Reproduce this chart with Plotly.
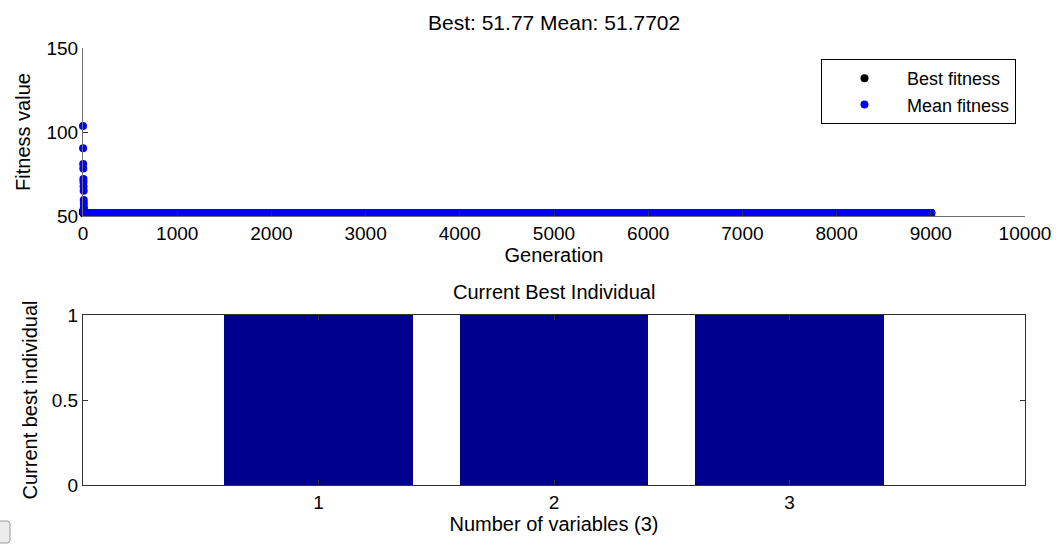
import plotly.graph_objects as go

# ---- data ---------------------------------------------------------------
# Mean fitness in the first generations, then the settled value
mean_early = [103.6, 90.4, 81.0, 78.2, 72.0, 70.2, 67.5, 65.0, 59.5, 57.5,
              55.2, 53.5, 52.4, 51.9]
best_early = [53.0, 52.4, 52.1, 51.95, 51.85, 51.8, 51.78]
best_final = 51.77
mean_final = 51.7702
last_generation = 9005

# Current best individual (one value per variable)
variables = [1, 2, 3]
best_individual = [1, 1, 1]

x_ticks = list(range(0, 10001, 1000))
x_tick_labels = [str(v) for v in x_ticks]
y_ticks_fit = [50, 100, 150]
y_ticks_ind = [0, 0.5, 1]
y_tick_ind_labels = ["0", "0.5", "1"]

# ---- series -------------------------------------------------------------
n_gen = last_generation + 1
generations = list(range(n_gen))
mean_fitness = mean_early + [mean_final] * (n_gen - len(mean_early))
best_fitness = best_early + [best_final] * (n_gen - len(best_early))

W, H = 1061, 545
FONT = "Liberation Sans, Arial, sans-serif"
BAR_COLOR = "#00008F"


def px_x(p):
    return p / W


def px_y(p):
    return 1 - p / H


fig = go.Figure()

fig.add_trace(go.Scatter(
    x=generations, y=best_fitness, mode="markers", name="Best fitness",
    marker=dict(color="black", size=8, line_width=0), cliponaxis=False,
    xaxis="x", yaxis="y",
))
fig.add_trace(go.Scatter(
    x=generations, y=mean_fitness, mode="markers", name="Mean fitness",
    marker=dict(color="#0000FF", size=8, line_width=0), cliponaxis=False,
    xaxis="x", yaxis="y",
))
fig.add_trace(go.Bar(
    x=variables, y=best_individual, width=0.8, marker_color=BAR_COLOR,
    marker_line_width=0, showlegend=False, xaxis="x2", yaxis="y2",
))

tick_font = dict(family=FONT, size=19, color="black")
title_font = dict(family=FONT, size=20, color="black")

common_axis = dict(
    ticks="inside", ticklen=5, tickwidth=1, tickcolor="#333333",
    showgrid=False, zeroline=False, tickfont=tick_font, automargin=False,
)

fig.update_layout(
    width=W, height=H,
    margin=dict(l=0, r=0, t=0, b=0, autoexpand=False),
    paper_bgcolor="white", plot_bgcolor="white",
    font=dict(family=FONT, color="black"),
    bargap=0,
    xaxis=dict(
        domain=[px_x(83), px_x(1025)], range=[0, 10000],
        tickvals=x_ticks, ticktext=x_tick_labels,
        showline=True, linecolor="#707070", linewidth=1,
        title=dict(text="Generation", font=title_font, standoff=4),
        anchor="y", **common_axis,
    ),
    yaxis=dict(
        domain=[px_y(216), px_y(48)], range=[50, 150],
        tickvals=y_ticks_fit, showline=True, linecolor="#707070", linewidth=1,
        title=dict(text="Fitness value", font=title_font, standoff=10),
        anchor="x", **common_axis,
    ),
    xaxis2=dict(
        domain=[px_x(83), px_x(1025)], range=[0, 4],
        tickvals=variables, showline=True, linecolor="#303030", linewidth=1,
        mirror="ticks",
        title=dict(text="Number of variables (3)", font=title_font, standoff=4),
        anchor="y2", **common_axis,
    ),
    yaxis2=dict(
        domain=[px_y(485), px_y(315)], range=[0, 1],
        tickvals=y_ticks_ind, ticktext=y_tick_ind_labels,
        showline=True, linecolor="#303030", linewidth=1, mirror="ticks",
        title=dict(text="Current best individual", font=title_font, standoff=8),
        anchor="x2", **common_axis,
    ),
    legend=dict(
        x=px_x(1016), xanchor="right", y=px_y(59), yanchor="top",
        bgcolor="white", bordercolor="black", borderwidth=1,
        font=dict(family=FONT, size=18, color="black"),
        itemwidth=75, tracegroupgap=0,
    ),
    annotations=[
        dict(text=f"Best: {best_final} Mean: {mean_final}", x=0.5 * (px_x(83) + px_x(1025)),
             y=px_y(22), xref="paper", yref="paper", showarrow=False,
             font=dict(family=FONT, size=21, color="black"),
             xanchor="center", yanchor="middle"),
        dict(text="Current Best Individual", x=0.5 * (px_x(83) + px_x(1025)),
             y=px_y(292), xref="paper", yref="paper", showarrow=False,
             font=title_font, xanchor="center", yanchor="middle"),
    ],
    shapes=[
        # partially visible push button in the lower-left corner
        dict(type="path", xref="paper", yref="paper",
             path=(f"M {px_x(-6)} {px_y(521)} L {px_x(7)} {px_y(521)} "
                   f"Q {px_x(10)} {px_y(521)} {px_x(10)} {px_y(524)} "
                   f"L {px_x(10)} {px_y(540)} Q {px_x(10)} {px_y(543)} {px_x(7)} {px_y(543)} "
                   f"L {px_x(-6)} {px_y(543)} Z"),
             fillcolor="#ececec", line=dict(color="#9a9a9a", width=1)),
    ],
)

fig.write_html("out.html")
